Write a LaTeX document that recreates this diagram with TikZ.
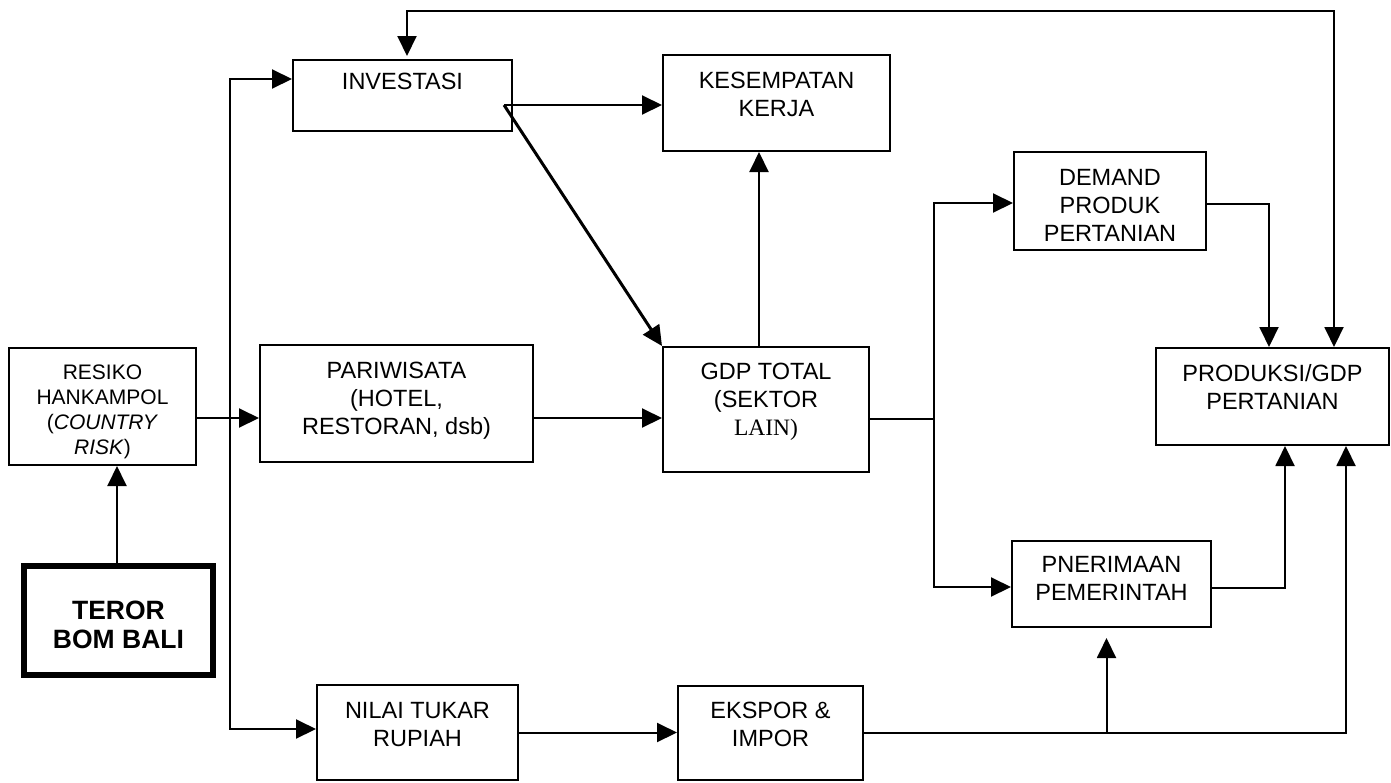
\documentclass[tikz,border=0pt]{standalone}
\usepackage{fontspec}
\setmainfont{Liberation Sans}
\newfontfamily\hurufserif{Liberation Serif}
\usetikzlibrary{arrows.meta}
\newcommand{\ganjalbawah}[1]{\\[#1]\mbox{}}
\newcommand{\ganjalatas}[1]{\mbox{}\\[#1]}
\tikzset{
  kotak/.style={draw, line width=2pt, inner sep=0pt, align=center, font=\fontsize{23.5}{28}\selectfont},
  kotakkecil/.style={kotak, font=\fontsize{21}{25}\selectfont},
  kotaktebal/.style={kotak, line width=6pt, font=\bfseries\fontsize{26.5}{29}\selectfont},
  panah/.style={-{Triangle[length=20pt, width=19pt]}, line width=2pt},
  panahdua/.style={{Triangle[length=20pt, width=19pt]}-{Triangle[length=20pt, width=19pt]}, line width=2pt},
  panahtebal/.style={panah, line width=3pt},
  garis/.style={line width=2pt}
}

\begin{document}
\begin{tikzpicture}[x=1pt, y=-1pt]
  \useasboundingbox (0,0) rectangle (1391,782);
  \node[kotak, minimum width=219pt, minimum height=71pt] (inv) at (402.5,95.5) {INVESTASI\\ \mbox{}};
  \node[kotak, minimum width=227pt, minimum height=96pt] (kes) at (776.5,103) {KESEMPATAN\\KERJA\ganjalbawah{-10pt}};
  \node[kotak, minimum width=192pt, minimum height=98pt] (dem) at (1110,201) {\ganjalatas{-3pt}DEMAND\\PRODUK\\PERTANIAN};
  \node[kotak, minimum width=233pt, minimum height=97pt] (prod) at (1272.5,396.5) {PRODUKSI/GDP\\PERTANIAN\ganjalbawah{-8pt}};
  \node[kotakkecil, minimum width=187pt, minimum height=117pt] (resiko) at (102.5,406.5) {\ganjalatas{0pt}RESIKO\\HANKAMPOL\\(\textit{COUNTRY}\\\textit{RISK})};
  \node[kotak, minimum width=273pt, minimum height=117pt] (pari) at (396.5,403.5) {PARIWISATA\\(HOTEL,\\RESTORAN, dsb)\ganjalbawah{-18pt}};
  \node[kotak, minimum width=206pt, minimum height=125pt] (gdp) at (766,409.5) {GDP TOTAL\\(SEKTOR\\{\hurufserif LAIN)}\ganjalbawah{-7pt}};
  \node[kotaktebal, minimum width=189pt, minimum height=109pt] (teror) at (118.5,620.5) {\ganjalatas{-2pt}TEROR\\BOM BALI};
  \node[kotak, minimum width=199pt, minimum height=86pt] (pner) at (1111.5,584) {PNERIMAAN\\PEMERINTAH\ganjalbawah{-16pt}};
  \node[kotak, minimum width=201pt, minimum height=95pt] (nilai) at (417.5,732.5) {NILAI TUKAR\\RUPIAH\ganjalbawah{-12pt}};
  \node[kotak, minimum width=185pt, minimum height=94pt] (eks) at (770.5,733) {EKSPOR \&\\IMPOR\ganjalbawah{-10pt}};

  \coordinate (cabang) at (229.5,418);
  \coordinate (cabangdua) at (934,419);
  \coordinate (cabangtiga) at ([xshift=-5pt]pner.south |- eks.east);
  \coordinate (atas) at (1334,11);
  \coordinate (invkeluar) at ([xshift=-9pt,yshift=-9.5pt]inv.east);

  \draw[panah] ([xshift=-1.5pt]teror.north) -- ([xshift=-1.5pt]teror.north |- resiko.south);
  \draw[panah] (resiko.east |- cabang) -- (pari.west |- cabang);
  \draw[panah] (cabang) |- ([yshift=16.5pt]inv.west);
  \draw[panah] (cabang) |- ([yshift=3.5pt]nilai.west);
  \draw[panah] (pari.east |- cabang) -- (gdp.west |- cabang);
  \draw[panah] (invkeluar) -- (invkeluar -| kes.west);
  \draw[panahtebal] (invkeluar) -- (gdp.north west);
  \draw[panah] ([xshift=-7pt]gdp.north) -- ([xshift=-7pt]gdp.north |- kes.south);
  \draw[garis] ([yshift=-9.5pt]gdp.east) -- (cabangdua);
  \draw[panah] (cabangdua) |- ([yshift=-2pt]dem.west);
  \draw[panah] (cabangdua) |- ([yshift=-3pt]pner.west);
  \draw[panah] ([yshift=-3pt]dem.east) -| ([xshift=-3.5pt]prod.north);
  \draw[panah] ([yshift=-4pt]pner.east) -| ([xshift=12.5pt]prod.south);
  \draw[panah] (nilai.east) -- (nilai.east -| eks.west);
  \draw[panah] (eks.east) -| ([xshift=73.5pt]prod.south);
  \draw[panah] (cabangtiga) -- ([yshift=-10pt]cabangtiga |- pner.south);
  \draw[panahdua] ([xshift=4.5pt,yshift=3pt]inv.north) |- (atas) -- (atas |- prod.north);
\end{tikzpicture}
\end{document}
